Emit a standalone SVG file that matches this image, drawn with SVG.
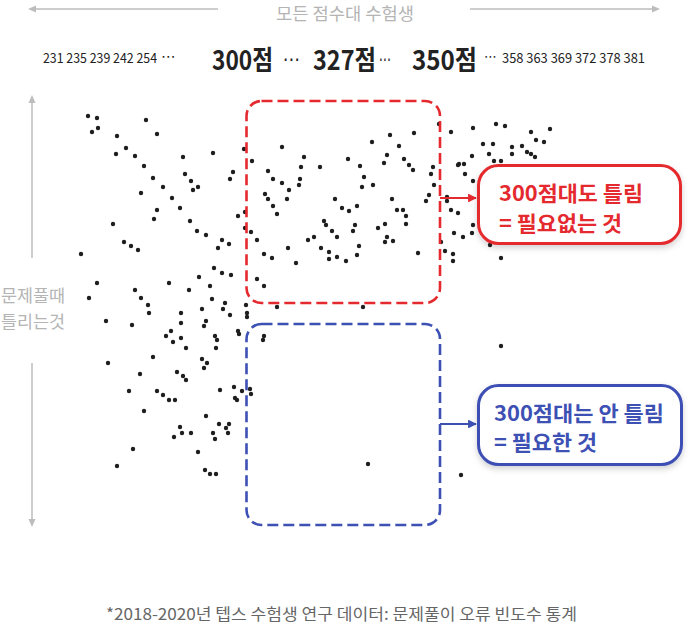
<svg xmlns="http://www.w3.org/2000/svg" width="694" height="625" viewBox="0 0 694 625">
<style>
text{font-family:"Noto Sans CJK KR","Noto Sans",sans-serif}
.gray{fill:#b4b4b4}
.num{fill:#222;font-size:14px}
.big{fill:#222;font-size:27px;font-weight:700}
.el{font-family:"DejaVu Sans",sans-serif;fill:#222}
.ax{stroke:#bdbdbd;stroke-width:1.5;fill:none}
.axh{fill:#bdbdbd}
.dots circle{fill:#1e1e1e}
.red{stroke:#e52a2f}
.blue{stroke:#3d50b4}
.zone{fill:none;stroke-width:2.6;stroke-dasharray:11 5}
.call{fill:#fff;stroke-width:3;filter:url(#sh)}
.ct{font-size:21px;font-weight:700}
</style>
<defs>
<filter id="sh" x="-20%" y="-20%" width="140%" height="150%">
<feDropShadow dx="0" dy="3" stdDeviation="3" flood-color="#000" flood-opacity="0.18"/>
</filter>
<marker id="ar" viewBox="0 0 10 10" refX="9" refY="5" markerWidth="4" markerHeight="4" orient="auto"><path d="M0,0 L10,5 L0,10 z" fill="#e52a2f"/></marker>
<marker id="ab" viewBox="0 0 10 10" refX="9" refY="5" markerWidth="4" markerHeight="4" orient="auto"><path d="M0,0 L10,5 L0,10 z" fill="#3d50b4"/></marker>
</defs>
<rect width="694" height="625" fill="#fff"/>

<g id="header">
<line class="ax" x1="34" y1="9" x2="218" y2="9"/>
<path class="axh" d="M28,9 L36,5.5 L36,12.5 z"/>
<line class="ax" x1="470" y1="9" x2="654" y2="9"/>
<path class="axh" d="M660,9 L652,5.5 L652,12.5 z"/>
<text class="gray" x="345" y="20" font-size="17" text-anchor="middle" textLength="138" lengthAdjust="spacingAndGlyphs">모든 점수대 수험생</text>
<text class="num" x="43" y="63" textLength="114" lengthAdjust="spacingAndGlyphs">231 235 239 242 254</text>
<text class="el" x="161" y="61" font-size="14" textLength="15" lengthAdjust="spacingAndGlyphs">⋯</text>
<text class="big" x="212" y="70" textLength="61" lengthAdjust="spacingAndGlyphs">300점</text>
<text class="el" x="283" y="66" font-size="20" textLength="17" lengthAdjust="spacingAndGlyphs">⋯</text>
<text class="big" x="313" y="70" textLength="63" lengthAdjust="spacingAndGlyphs">327점</text>
<text class="el" x="379" y="66" font-size="20" textLength="12" lengthAdjust="spacingAndGlyphs">⋯</text>
<text class="big" x="412" y="70" textLength="65" lengthAdjust="spacingAndGlyphs">350점</text>
<text class="el" x="484" y="61" font-size="14" textLength="13" lengthAdjust="spacingAndGlyphs">⋯</text>
<text class="num" x="502" y="63" textLength="143" lengthAdjust="spacingAndGlyphs">358 363 369 372 378 381</text>
</g>

<g id="yaxis">
<line class="ax" x1="32" y1="101" x2="32" y2="258"/>
<path class="axh" d="M32,95 L28.5,103 L35.5,103 z"/>
<line class="ax" x1="32" y1="363" x2="32" y2="521"/>
<path class="axh" d="M32,527 L28.5,519 L35.5,519 z"/>
<text class="gray" x="1" y="302" font-size="17" textLength="64" lengthAdjust="spacingAndGlyphs">문제풀때</text>
<text class="gray" x="1" y="328" font-size="17" textLength="64" lengthAdjust="spacingAndGlyphs">틀리는것</text>
</g>

<g id="dots" class="dots">
<circle cx="88" cy="116" r="2.2"/><circle cx="97" cy="118" r="2.2"/><circle cx="92" cy="132" r="2.2"/><circle cx="98" cy="128" r="2.2"/><circle cx="146" cy="120" r="2.2"/><circle cx="157" cy="134" r="2.2"/><circle cx="117" cy="136" r="2.2"/><circle cx="126" cy="148" r="2.2"/><circle cx="116" cy="154" r="2.2"/><circle cx="135" cy="156" r="2.2"/><circle cx="144" cy="166" r="2.2"/><circle cx="183" cy="157" r="2.2"/><circle cx="213" cy="153" r="2.2"/><circle cx="244" cy="149" r="2.2"/><circle cx="153" cy="178" r="2.2"/><circle cx="163" cy="187" r="2.2"/><circle cx="141" cy="193" r="2.2"/><circle cx="185" cy="174" r="2.2"/><circle cx="191" cy="181" r="2.2"/><circle cx="193" cy="190" r="2.2"/><circle cx="198" cy="187" r="2.2"/><circle cx="233" cy="172" r="2.2"/><circle cx="230" cy="179" r="2.2"/><circle cx="172" cy="198" r="2.2"/><circle cx="157" cy="210" r="2.2"/><circle cx="154" cy="219" r="2.2"/><circle cx="180" cy="208" r="2.2"/><circle cx="238" cy="216" r="2.2"/><circle cx="245" cy="212" r="2.2"/><circle cx="245" cy="228" r="2.2"/><circle cx="113" cy="224" r="2.2"/><circle cx="190" cy="221" r="2.2"/><circle cx="197" cy="231" r="2.2"/><circle cx="206" cy="235" r="2.2"/><circle cx="222" cy="240" r="2.2"/><circle cx="218" cy="248" r="2.2"/><circle cx="229" cy="244" r="2.2"/><circle cx="124" cy="242" r="2.2"/><circle cx="131" cy="246" r="2.2"/><circle cx="138" cy="250" r="2.2"/><circle cx="81" cy="254" r="2.2"/><circle cx="214" cy="268" r="2.2"/><circle cx="222" cy="273" r="2.2"/><circle cx="231" cy="275" r="2.2"/><circle cx="199" cy="277" r="2.2"/><circle cx="210" cy="286" r="2.2"/><circle cx="97" cy="283" r="2.2"/><circle cx="169" cy="283" r="2.2"/><circle cx="189" cy="290" r="2.2"/><circle cx="135" cy="290" r="2.2"/><circle cx="89" cy="298" r="2.2"/><circle cx="141" cy="298" r="2.2"/><circle cx="212" cy="299" r="2.2"/>
<circle cx="148" cy="305" r="2.2"/><circle cx="149" cy="313" r="2.2"/><circle cx="181" cy="313" r="2.2"/><circle cx="181" cy="323" r="2.2"/><circle cx="202" cy="309" r="2.2"/><circle cx="225" cy="303" r="2.2"/><circle cx="223" cy="309" r="2.2"/><circle cx="230" cy="315" r="2.2"/><circle cx="246" cy="305" r="2.2"/><circle cx="247" cy="313" r="2.2"/><circle cx="247" cy="317" r="2.2"/><circle cx="106" cy="321" r="2.2"/><circle cx="132" cy="325" r="2.2"/><circle cx="206" cy="321" r="2.2"/><circle cx="204" cy="326" r="2.2"/><circle cx="171" cy="331" r="2.2"/><circle cx="166" cy="336" r="2.2"/><circle cx="173" cy="342" r="2.2"/><circle cx="181" cy="338" r="2.2"/><circle cx="186" cy="348" r="2.2"/><circle cx="215" cy="336" r="2.2"/><circle cx="217" cy="340" r="2.2"/><circle cx="216" cy="348" r="2.2"/><circle cx="238" cy="331" r="2.2"/><circle cx="239" cy="334" r="2.2"/><circle cx="153" cy="357" r="2.2"/><circle cx="108" cy="363" r="2.2"/><circle cx="202" cy="359" r="2.2"/><circle cx="207" cy="363" r="2.2"/><circle cx="204" cy="368" r="2.2"/><circle cx="140" cy="374" r="2.2"/><circle cx="177" cy="372" r="2.2"/><circle cx="183" cy="376" r="2.2"/><circle cx="186" cy="380" r="2.2"/><circle cx="129" cy="391" r="2.2"/><circle cx="157" cy="391" r="2.2"/><circle cx="163" cy="395" r="2.2"/><circle cx="169" cy="400" r="2.2"/><circle cx="175" cy="400" r="2.2"/><circle cx="220" cy="390" r="2.2"/><circle cx="234" cy="387" r="2.2"/><circle cx="242" cy="391" r="2.2"/><circle cx="250" cy="389" r="2.2"/><circle cx="251" cy="394" r="2.2"/><circle cx="235" cy="398" r="2.2"/><circle cx="237" cy="400" r="2.2"/><circle cx="144" cy="411" r="2.2"/><circle cx="206" cy="416" r="2.2"/><circle cx="180" cy="427" r="2.2"/><circle cx="182" cy="433" r="2.2"/><circle cx="191" cy="433" r="2.2"/><circle cx="174" cy="437" r="2.2"/><circle cx="219" cy="424" r="2.2"/><circle cx="229" cy="424" r="2.2"/><circle cx="226" cy="428" r="2.2"/><circle cx="228" cy="433" r="2.2"/><circle cx="213" cy="433" r="2.2"/><circle cx="215" cy="439" r="2.2"/><circle cx="133" cy="449" r="2.2"/><circle cx="198" cy="452" r="2.2"/><circle cx="117" cy="466" r="2.2"/><circle cx="205" cy="470" r="2.2"/><circle cx="210" cy="474" r="2.2"/><circle cx="216" cy="474" r="2.2"/>
<circle cx="264" cy="336" r="2.2"/><circle cx="263" cy="340" r="2.2"/><circle cx="501" cy="346" r="2.2"/><circle cx="368" cy="464" r="2.2"/><circle cx="461" cy="475" r="2.2"/>
<circle cx="252" cy="161" r="2.2"/><circle cx="282" cy="147" r="2.2"/><circle cx="268" cy="171" r="2.2"/><circle cx="273" cy="179" r="2.2"/><circle cx="282" cy="183" r="2.2"/><circle cx="289" cy="190" r="2.2"/><circle cx="287" cy="199" r="2.2"/><circle cx="299" cy="185" r="2.2"/><circle cx="300" cy="179" r="2.2"/><circle cx="301" cy="167" r="2.2"/><circle cx="304" cy="157" r="2.2"/><circle cx="320" cy="167" r="2.2"/><circle cx="265" cy="194" r="2.2"/><circle cx="268" cy="199" r="2.2"/><circle cx="273" cy="206" r="2.2"/><circle cx="277" cy="214" r="2.2"/><circle cx="251" cy="232" r="2.2"/><circle cx="257" cy="240" r="2.2"/><circle cx="264" cy="254" r="2.2"/><circle cx="272" cy="258" r="2.2"/><circle cx="288" cy="248" r="2.2"/><circle cx="296" cy="263" r="2.2"/><circle cx="308" cy="240" r="2.2"/><circle cx="314" cy="237" r="2.2"/><circle cx="321" cy="248" r="2.2"/><circle cx="329" cy="252" r="2.2"/><circle cx="329" cy="259" r="2.2"/><circle cx="337" cy="257" r="2.2"/><circle cx="346" cy="261" r="2.2"/><circle cx="357" cy="255" r="2.2"/><circle cx="359" cy="246" r="2.2"/><circle cx="353" cy="231" r="2.2"/><circle cx="355" cy="225" r="2.2"/><circle cx="337" cy="237" r="2.2"/><circle cx="332" cy="231" r="2.2"/><circle cx="326" cy="225" r="2.2"/><circle cx="324" cy="221" r="2.2"/><circle cx="335" cy="199" r="2.2"/><circle cx="342" cy="208" r="2.2"/><circle cx="349" cy="211" r="2.2"/><circle cx="357" cy="206" r="2.2"/><circle cx="362" cy="187" r="2.2"/><circle cx="364" cy="177" r="2.2"/><circle cx="360" cy="166" r="2.2"/><circle cx="348" cy="159" r="2.2"/><circle cx="372" cy="142" r="2.2"/><circle cx="373" cy="185" r="2.2"/><circle cx="384" cy="163" r="2.2"/><circle cx="387" cy="155" r="2.2"/><circle cx="390" cy="135" r="2.2"/><circle cx="399" cy="146" r="2.2"/><circle cx="404" cy="159" r="2.2"/><circle cx="409" cy="165" r="2.2"/><circle cx="413" cy="170" r="2.2"/><circle cx="414" cy="133" r="2.2"/><circle cx="392" cy="199" r="2.2"/><circle cx="397" cy="210" r="2.2"/><circle cx="403" cy="210" r="2.2"/><circle cx="406" cy="216" r="2.2"/><circle cx="406" cy="224" r="2.2"/><circle cx="385" cy="224" r="2.2"/><circle cx="378" cy="228" r="2.2"/><circle cx="387" cy="237" r="2.2"/><circle cx="385" cy="242" r="2.2"/><circle cx="393" cy="241" r="2.2"/><circle cx="418" cy="253" r="2.2"/><circle cx="426" cy="201" r="2.2"/><circle cx="429" cy="195" r="2.2"/><circle cx="431" cy="174" r="2.2"/><circle cx="433" cy="167" r="2.2"/><circle cx="434" cy="185" r="2.2"/><circle cx="439" cy="124" r="2.2"/><circle cx="451" cy="132" r="2.2"/><circle cx="458" cy="165" r="2.2"/><circle cx="447" cy="197" r="2.2"/><circle cx="447" cy="201" r="2.2"/><circle cx="451" cy="210" r="2.2"/><circle cx="458" cy="213" r="2.2"/><circle cx="454" cy="233" r="2.2"/><circle cx="441" cy="242" r="2.2"/><circle cx="445" cy="251" r="2.2"/><circle cx="453" cy="254" r="2.2"/><circle cx="453" cy="261" r="2.2"/><circle cx="257" cy="279" r="2.2"/><circle cx="264" cy="286" r="2.2"/><circle cx="277" cy="307" r="2.2"/><circle cx="363" cy="307" r="2.2"/>
<circle cx="473" cy="128" r="2.2"/><circle cx="496" cy="124" r="2.2"/><circle cx="505" cy="126" r="2.2"/><circle cx="531" cy="132" r="2.2"/><circle cx="550" cy="129" r="2.2"/><circle cx="536" cy="140" r="2.2"/><circle cx="544" cy="142" r="2.2"/><circle cx="483" cy="144" r="2.2"/><circle cx="493" cy="144" r="2.2"/><circle cx="512" cy="147" r="2.2"/><circle cx="522" cy="146" r="2.2"/><circle cx="527" cy="152" r="2.2"/><circle cx="531" cy="154" r="2.2"/><circle cx="535" cy="157" r="2.2"/><circle cx="512" cy="154" r="2.2"/><circle cx="489" cy="154" r="2.2"/><circle cx="472" cy="156" r="2.2"/><circle cx="494" cy="161" r="2.2"/><circle cx="501" cy="161" r="2.2"/><circle cx="459" cy="164" r="2.2"/><circle cx="464" cy="164" r="2.2"/><circle cx="465" cy="174" r="2.2"/><circle cx="473" cy="181" r="2.2"/><circle cx="473" cy="225" r="2.2"/><circle cx="463" cy="237" r="2.2"/><circle cx="472" cy="233" r="2.2"/><circle cx="490" cy="245" r="2.2"/><circle cx="501" cy="258" r="2.2"/>
</g>

<g id="zone-red"><rect class="zone red" x="246.5" y="101" width="193.5" height="202" rx="15"/></g>
<g id="zone-blue"><rect class="zone blue" x="246.5" y="324" width="193.5" height="201" rx="15"/></g>

<g id="connectors">
<line class="red" x1="440" y1="198" x2="476" y2="198" stroke-width="2.2" marker-end="url(#ar)"/>
<line class="blue" x1="440" y1="424" x2="476" y2="424" stroke-width="2.2" marker-end="url(#ab)"/>
</g>

<g id="callout-red">
<rect class="call red" x="478.5" y="165.5" width="202" height="78" rx="20"/>
<text class="ct" x="499" y="201" fill="#e52a2f" textLength="144" lengthAdjust="spacingAndGlyphs">300점대도 틀림</text>
<text class="ct" x="499" y="231" fill="#e52a2f" textLength="123" lengthAdjust="spacingAndGlyphs">= 필요없는 것</text>
</g>

<g id="callout-blue">
<rect class="call blue" x="478.5" y="385.5" width="203" height="79" rx="20"/>
<text class="ct" x="494" y="421" fill="#3d50b4" textLength="170" lengthAdjust="spacingAndGlyphs">300점대는 안 틀림</text>
<text class="ct" x="494" y="450" fill="#3d50b4" textLength="103" lengthAdjust="spacingAndGlyphs">= 필요한 것</text>
</g>

<g id="caption">
<text x="106" y="620" font-size="16" fill="#666" textLength="471" lengthAdjust="spacingAndGlyphs">*2018-2020년 텝스 수험생 연구 데이터: 문제풀이 오류 빈도수 통계</text>
</g>
</svg>
